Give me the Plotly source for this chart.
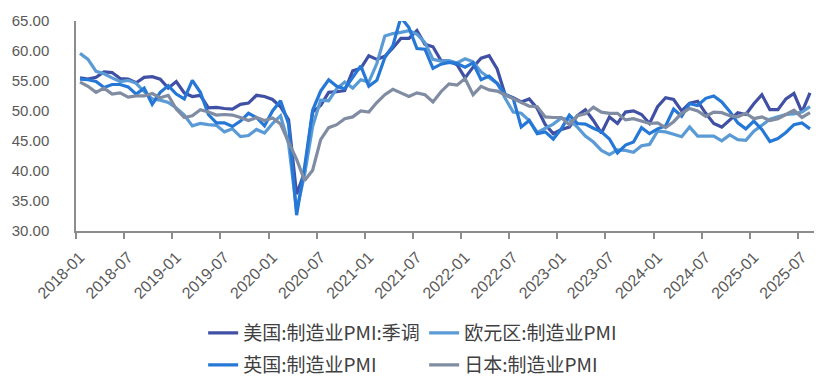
import plotly.graph_objects as go

months = [f"{y}-{m:02d}" for y in range(2018, 2026) for m in range(1, 13)][:92]

us = [55.5, 55.3, 55.6, 56.5, 56.4, 55.4, 55.3, 54.7, 55.6, 55.7, 55.3, 53.8,
      54.9, 53.0, 52.4, 52.6, 50.5, 50.6, 50.4, 50.3, 51.1, 51.3, 52.6, 52.4,
      51.9, 50.7, 48.5, 36.1, 39.8, 49.8, 50.9, 53.1, 53.2, 53.4, 56.7, 57.1,
      59.2, 58.6, 59.1, 60.5, 62.1, 62.1, 63.4, 61.1, 60.7, 58.4, 58.3, 57.7,
      55.5, 57.3, 58.8, 59.2, 57.0, 52.7, 52.2, 51.5, 52.0, 50.4, 47.7, 46.2,
      46.9, 47.3, 49.2, 50.2, 48.4, 46.3, 49.0, 47.9, 49.8, 50.0, 49.4, 47.9,
      50.7, 52.2, 51.9, 50.0, 51.3, 51.6, 49.6, 47.9, 47.3, 48.5, 49.7, 49.4,
      51.2, 52.7, 50.2, 50.2, 52.0, 52.9, 49.8, 53.0]

euro = [59.6, 58.6, 56.6, 56.2, 55.5, 54.9, 55.1, 54.6, 53.2, 52.0, 51.8, 51.4,
        50.5, 49.3, 47.5, 47.9, 47.7, 47.6, 46.5, 47.0, 45.7, 45.9, 46.9, 46.3,
        47.9, 49.2, 44.5, 33.4, 39.4, 47.4, 51.8, 51.7, 53.7, 54.8, 53.8, 55.2,
        54.8, 57.9, 62.5, 62.9, 63.1, 63.4, 62.8, 61.4, 58.6, 58.3, 58.4, 58.0,
        58.7, 58.2, 56.5, 55.5, 54.6, 52.1, 49.8, 49.6, 48.4, 46.4, 47.1, 47.8,
        48.8, 48.5, 47.3, 45.8, 44.8, 43.4, 42.7, 43.5, 43.4, 43.1, 44.2, 44.4,
        46.6, 46.5, 46.1, 45.7, 47.3, 45.8, 45.8, 45.8, 45.0, 46.0, 45.2, 45.1,
        46.6, 47.6, 48.6, 49.0, 49.4, 49.5, 49.8, 50.7]

uk = [55.3, 55.2, 54.9, 53.9, 54.4, 54.4, 54.0, 52.8, 53.8, 51.1, 53.1, 54.2,
      52.8, 52.0, 55.1, 53.1, 49.4, 48.0, 48.0, 47.4, 48.3, 49.6, 48.9, 47.5,
      50.0, 51.7, 47.8, 32.6, 40.7, 50.1, 53.3, 55.2, 54.1, 53.7, 55.6, 57.5,
      54.1, 55.1, 58.9, 60.9, 65.6, 63.9, 60.4, 60.3, 57.1, 57.8, 58.1, 57.9,
      57.3, 58.0, 55.2, 55.8, 54.6, 52.8, 52.1, 47.3, 48.4, 46.2, 46.5, 45.3,
      47.0, 49.3, 47.9, 47.8, 47.1, 46.5, 45.3, 43.0, 44.3, 44.8, 47.2, 46.2,
      47.0, 47.5, 50.3, 49.1, 51.2, 50.9, 52.1, 52.5, 51.5, 49.9, 48.0, 47.0,
      48.3, 46.9, 44.9, 45.4, 46.4, 47.7, 48.0, 47.0]

japan = [54.8, 54.1, 53.1, 53.8, 52.8, 53.0, 52.3, 52.5, 52.5, 52.9, 52.2, 52.6,
         50.3, 48.9, 49.2, 50.2, 49.8, 49.3, 49.4, 49.3, 48.9, 48.4, 48.9, 48.4,
         48.8, 47.8, 44.8, 41.9, 38.4, 40.1, 45.2, 47.2, 47.7, 48.7, 49.0, 50.0,
         49.8, 51.4, 52.7, 53.6, 53.0, 52.4, 53.0, 52.7, 51.5, 53.2, 54.5, 54.3,
         55.4, 52.7, 54.1, 53.5, 53.3, 52.7, 52.1, 51.5, 50.8, 50.7, 49.0, 48.9,
         48.9, 47.7, 49.2, 49.5, 50.6, 49.8, 49.6, 49.6, 48.5, 48.7, 48.3, 47.9,
         48.0, 47.2, 48.2, 49.6, 50.4, 50.0, 49.1, 49.8, 49.7, 49.2, 49.0, 49.6,
         48.7, 49.0, 48.4, 48.7, 49.4, 50.1, 48.9, 49.7]

y_ticks = [30, 35, 40, 45, 50, 55, 60, 65]

series = [
    ("美国:制造业PMI:季调", us, "#4050A4", "legend"),
    ("欧元区:制造业PMI", euro, "#5B9BD5", "legend"),
    ("英国:制造业PMI", uk, "#2678D7", "legend2"),
    ("日本:制造业PMI", japan, "#808CA2", "legend2"),
]

x = list(range(len(months)))
tick_idx = list(range(0, len(months), 6))

fig = go.Figure()
for name, vals, color, lg in series:
    fig.add_trace(go.Scatter(x=x, y=vals, mode="lines", name=name,
                             line=dict(color=color, width=3.2),
                             legend=lg))

axis_grey = "#8C8C8C"
legend_font = dict(family="Noto Sans CJK SC", size=19, color="#404040")
fig.update_layout(
    width=836, height=386,
    margin=dict(l=76, r=22, t=20, b=154),
    paper_bgcolor="white", plot_bgcolor="white",
    font=dict(family="Liberation Sans, Arial, sans-serif", color="#595959"),
    xaxis=dict(
        range=[-0.5, len(months) - 0.5],
        tickmode="array", tickvals=tick_idx,
        ticktext=[months[i] for i in tick_idx],
        tickangle=-45, ticks="", showgrid=False, zeroline=False,
        showline=True, linecolor=axis_grey, linewidth=1.5,
        ticklabelstandoff=9,
        tickfont=dict(size=16, color="#595959"),
        minor=dict(tickmode="array",
                   tickvals=[i - 0.5 for i in tick_idx],
                   ticks="outside", ticklen=6, tickcolor=axis_grey, tickwidth=1.5,
                   showgrid=False),
    ),
    yaxis=dict(
        range=[30, 65], tickmode="array", tickvals=y_ticks,
        tickformat=".2f", showgrid=False, zeroline=False,
        showline=True, linecolor=axis_grey, linewidth=1.5,
        ticks="", ticklabelstandoff=22,
        tickfont=dict(size=15, color="#595959"),
    ),
    legend=dict(orientation="h", xref="container", yref="container",
                x=0.243, xanchor="left", y=1 - 314 / 386, yanchor="top",
                entrywidth=176, entrywidthmode="pixels",
                font=legend_font, bgcolor="rgba(0,0,0,0)"),
    legend2=dict(orientation="h", xref="container", yref="container",
                 x=0.243, xanchor="left", y=1 - 346 / 386, yanchor="top",
                 entrywidth=176, entrywidthmode="pixels",
                 font=legend_font, bgcolor="rgba(0,0,0,0)"),
)

fig.write_html("out.html", config={"displayModeBar": False},
               post_script="document.body.style.margin='0';document.body.style.padding='0';")
